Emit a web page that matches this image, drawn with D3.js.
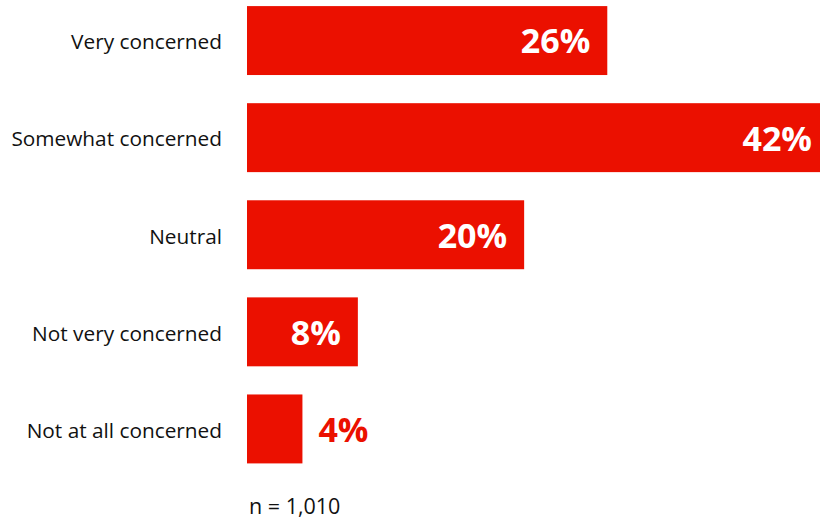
<!DOCTYPE html>
<html>
<head>
<meta charset="utf-8">
<script src="https://cdn.jsdelivr.net/npm/d3@7"></script>
<style>
  html, body { margin: 0; padding: 0; background: #fff; }
  svg { display: block; }
</style>
</head>
<body>
<svg id="chart" width="820" height="519"></svg>
<script>
// Level of concern, share of respondents (%)
const categories = ["Very concerned", "Somewhat concerned", "Neutral", "Not very concerned", "Not at all concerned"];
const values = [26, 42, 20, 8, 4];
const sampleNote = "n = 1,010";

const RED = "#eb1000";
const svg = d3.select("#chart");

const x = d3.scaleLinear().domain([0, 42]).range([247, 829]);
const y = d3.scaleBand().domain(categories).range([-7.5, 477]).paddingInner(0.29).paddingOuter(0.14);

const data = categories.map((c, i) => ({ cat: c, val: values[i] }));

// bars
svg.append("g").selectAll("rect").data(data).join("rect")
  .attr("x", x(0))
  .attr("y", d => y(d.cat))
  .attr("width", d => x(d.val) - x(0))
  .attr("height", y.bandwidth())
  .attr("fill", RED);

// category labels (left axis without line/ticks)
const axis = svg.append("g")
  .attr("transform", `translate(${x(0) - 25},0)`)
  .call(d3.axisLeft(y).tickSize(0).tickPadding(0));
axis.select(".domain").remove();
axis.selectAll("text")
  .attr("dy", "0.42em")
  .attr("font-family", "'Open Sans', sans-serif")
  .attr("font-size", 20.8)
  .attr("fill", "#111");

// value labels: inside the bar when it fits, outside otherwise
const fitsInside = d => x(d.val) - x(0) > 80;
svg.append("g").selectAll("text").data(data).join("text")
  .attr("x", d => fitsInside(d) ? x(d.val) - 17 : x(d.val) + 16)
  .attr("y", d => y(d.cat) + y.bandwidth() / 2)
  .attr("dy", "0.38em")
  .attr("text-anchor", d => fitsInside(d) ? "end" : "start")
  .attr("font-family", "'Open Sans', sans-serif")
  .attr("font-weight", 700)
  .attr("font-size", 34)
  .attr("fill", d => fitsInside(d) ? "#fff" : RED)
  .text(d => d.val + "%");

// sample size note
svg.append("text")
  .attr("x", 249)
  .attr("y", 514)
  .attr("font-family", "'Open Sans', sans-serif")
  .attr("font-size", 21.5)
  .attr("fill", "#111")
  .text(sampleNote);
</script>
</body>
</html>
